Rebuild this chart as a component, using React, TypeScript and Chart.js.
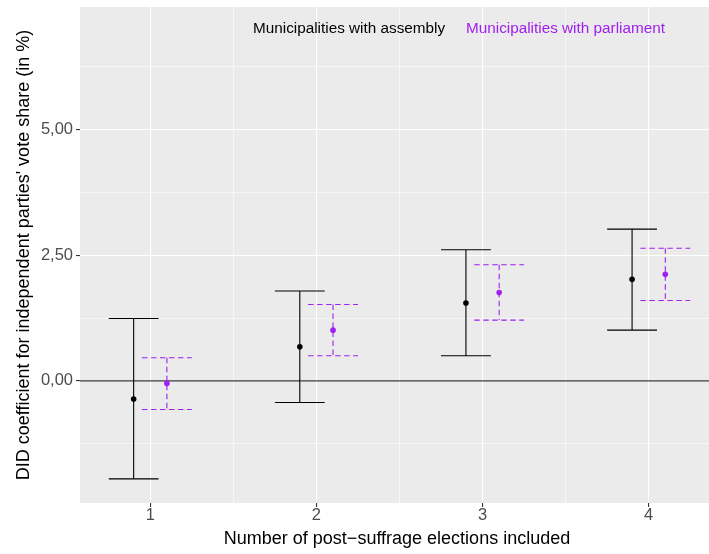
import React, { useEffect, useRef } from "react";
import { Chart, registerables } from "chart.js";

Chart.register(...registerables);

const categories = [1, 2, 3, 4];
const xTickLabels = ["1", "2", "3", "4"];
const yTickLabels = ["0,00", "2,50", "5,00"];
const yMajorTicks = [0, 2.5, 5];
const yMinorTicks = [-1.25, 1.25, 3.75, 6.25];
const xMinorTicks = [1.5, 2.5, 3.5];

const assemblyEst = [-0.36, 0.68, 1.55, 2.02];
const assemblyLow = [-1.95, -0.43, 0.5, 1.01];
const assemblyHigh = [1.24, 1.79, 2.61, 3.02];

const parliamentEst = [-0.05, 1.01, 1.76, 2.12];
const parliamentLow = [-0.57, 0.5, 1.21, 1.6];
const parliamentHigh = [0.46, 1.52, 2.31, 2.64];

const seriesNames = ["Municipalities with assembly", "Municipalities with parliament"];
const xTitle = "Number of post\u2212suffrage elections included";
const yTitle = "DID coefficient for independent parties' vote share (in %)";

const BLACK = "#000000";
const PURPLE = "#A020F0";
const DODGE = 0.1;
const CAP = 0.15;
const FONT = "'Liberation Sans', Arial, sans-serif";

const zeroPadding = (s: any) => {
  s.paddingTop = 0;
  s.paddingBottom = 0;
  s.paddingLeft = 0;
  s.paddingRight = 0;
};

const errorBarPlugin = {
  id: "errorBars",
  beforeDatasetsDraw(chart: any) {
    const { ctx, chartArea, scales } = chart;
    const xs = scales.x;
    const ys = scales.y;
    ctx.save();
    ctx.beginPath();
    ctx.rect(chartArea.left, chartArea.top, chartArea.right - chartArea.left, chartArea.bottom - chartArea.top);
    ctx.clip();
    ctx.strokeStyle = "#3a3a3a";
    ctx.lineWidth = 1.1;
    const y0 = ys.getPixelForValue(0);
    ctx.beginPath();
    ctx.moveTo(chartArea.left, y0);
    ctx.lineTo(chartArea.right, y0);
    ctx.stroke();

    const series = [
      { lo: assemblyLow, hi: assemblyHigh, off: -DODGE, color: BLACK, dash: [] as number[] },
      { lo: parliamentLow, hi: parliamentHigh, off: DODGE, color: PURPLE, dash: [5.5, 3.5] },
    ];
    series.forEach((s) => {
      ctx.strokeStyle = s.color;
      ctx.lineWidth = 1.1;
      ctx.setLineDash(s.dash);
      categories.forEach((c, i) => {
        const xc = xs.getPixelForValue(c + s.off);
        const xl = xs.getPixelForValue(c + s.off - CAP);
        const xr = xs.getPixelForValue(c + s.off + CAP);
        const yl = ys.getPixelForValue(s.lo[i]);
        const yh = ys.getPixelForValue(s.hi[i]);
        ctx.beginPath();
        ctx.moveTo(xl, yh);
        ctx.lineTo(xr, yh);
        ctx.moveTo(xc, yh);
        ctx.lineTo(xc, yl);
        ctx.moveTo(xl, yl);
        ctx.lineTo(xr, yl);
        ctx.stroke();
      });
    });
    ctx.restore();
  },
  afterDraw(chart: any) {
    const { ctx, chartArea } = chart;
    ctx.save();
    ctx.font = `15.3px ${FONT}`;
    ctx.textBaseline = "middle";
    ctx.textAlign = "left";
    ctx.fillStyle = BLACK;
    ctx.fillText(seriesNames[0], 253, 29);
    ctx.fillStyle = PURPLE;
    ctx.fillText(seriesNames[1], 466, 29);

    ctx.fillStyle = "#000000";
    ctx.font = `18px ${FONT}`;
    ctx.textAlign = "center";
    ctx.fillText(xTitle, 397, 539);
    ctx.translate(24, (chartArea.top + chartArea.bottom) / 2);
    ctx.rotate(-Math.PI / 2);
    ctx.fillText(yTitle, 0, 0);
    ctx.restore();
  },
};

const isMajorX = (v: number) => Number.isInteger(v);
const isMajorY = (v: number) => yMajorTicks.includes(v);

export default function App() {
  const ref = useRef<HTMLCanvasElement>(null);
  useEffect(() => {
    document.body.style.margin = "0";
    const chart = new Chart(ref.current as HTMLCanvasElement, {
      type: "scatter",
      data: {
        datasets: [
          {
            label: seriesNames[0],
            data: categories.map((c, i) => ({ x: c - DODGE, y: assemblyEst[i] })),
            backgroundColor: BLACK,
            borderWidth: 0,
            pointRadius: 2.8,
          },
          {
            label: seriesNames[1],
            data: categories.map((c, i) => ({ x: c + DODGE, y: parliamentEst[i] })),
            backgroundColor: PURPLE,
            borderWidth: 0,
            pointRadius: 2.8,
          },
        ],
      },
      options: {
        animation: false,
        responsive: false,
        layout: { autoPadding: false, padding: { top: 7, right: 0, left: 0, bottom: 0 } },
        plugins: { legend: { display: false }, tooltip: { enabled: false } },
        scales: {
          x: {
            type: "linear",
            min: 0.577,
            max: 4.363,
            afterBuildTicks: (s: any) => {
              s.ticks = [...categories, ...xMinorTicks].sort((a, b) => a - b).map((v) => ({ value: v }));
            },
            afterFit: (s: any) => {
              s.height = 51;
              zeroPadding(s);
            },
            border: { display: false },
            grid: {
              color: "#FFFFFF",
              lineWidth: (c: any) => (isMajorX(c.tick.value) ? 1.1 : 0.55),
              tickColor: (c: any) => (isMajorX(c.tick.value) ? "#333333" : "rgba(0,0,0,0)"),
              tickLength: 4,
              drawTicks: true,
            },
            ticks: {
              autoSkip: false,
              maxRotation: 0,
              padding: -1.5,
              color: "#4D4D4D",
              font: { family: FONT, size: 16.5 },
              callback: (v: any) => {
                const i = categories.indexOf(v);
                return i >= 0 ? xTickLabels[i] : "";
              },
            },
          },
          y: {
            type: "linear",
            min: -2.43,
            max: 7.44,
            afterBuildTicks: (s: any) => {
              s.ticks = [...yMajorTicks, ...yMinorTicks].sort((a, b) => a - b).map((v) => ({ value: v }));
            },
            afterFit: (s: any) => {
              s.width = 80;
              zeroPadding(s);
            },
            border: { display: false },
            grid: {
              color: "#FFFFFF",
              lineWidth: (c: any) => (isMajorY(c.tick.value) ? 1.1 : 0.55),
              tickColor: (c: any) => (isMajorY(c.tick.value) ? "#333333" : "rgba(0,0,0,0)"),
              tickLength: 4,
              drawTicks: true,
            },
            ticks: {
              autoSkip: false,
              padding: 3,
              color: "#4D4D4D",
              font: { family: FONT, size: 16.5 },
              callback: (v: any) => {
                const i = yMajorTicks.indexOf(v);
                return i >= 0 ? yTickLabels[i] : "";
              },
            },
          },
        },
      },
      plugins: [
        {
          id: "panelBg",
          beforeDraw(chart: any) {
            const { ctx, chartArea } = chart;
            ctx.save();
            ctx.fillStyle = "#EBEBEB";
            ctx.fillRect(chartArea.left, chartArea.top, chartArea.right - chartArea.left, chartArea.bottom - chartArea.top);
            ctx.restore();
          },
        },
        errorBarPlugin,
      ],
    });
    return () => chart.destroy();
  }, []);
  return <canvas ref={ref} width={709} height={554} style={{ display: "block" }} />;
}
